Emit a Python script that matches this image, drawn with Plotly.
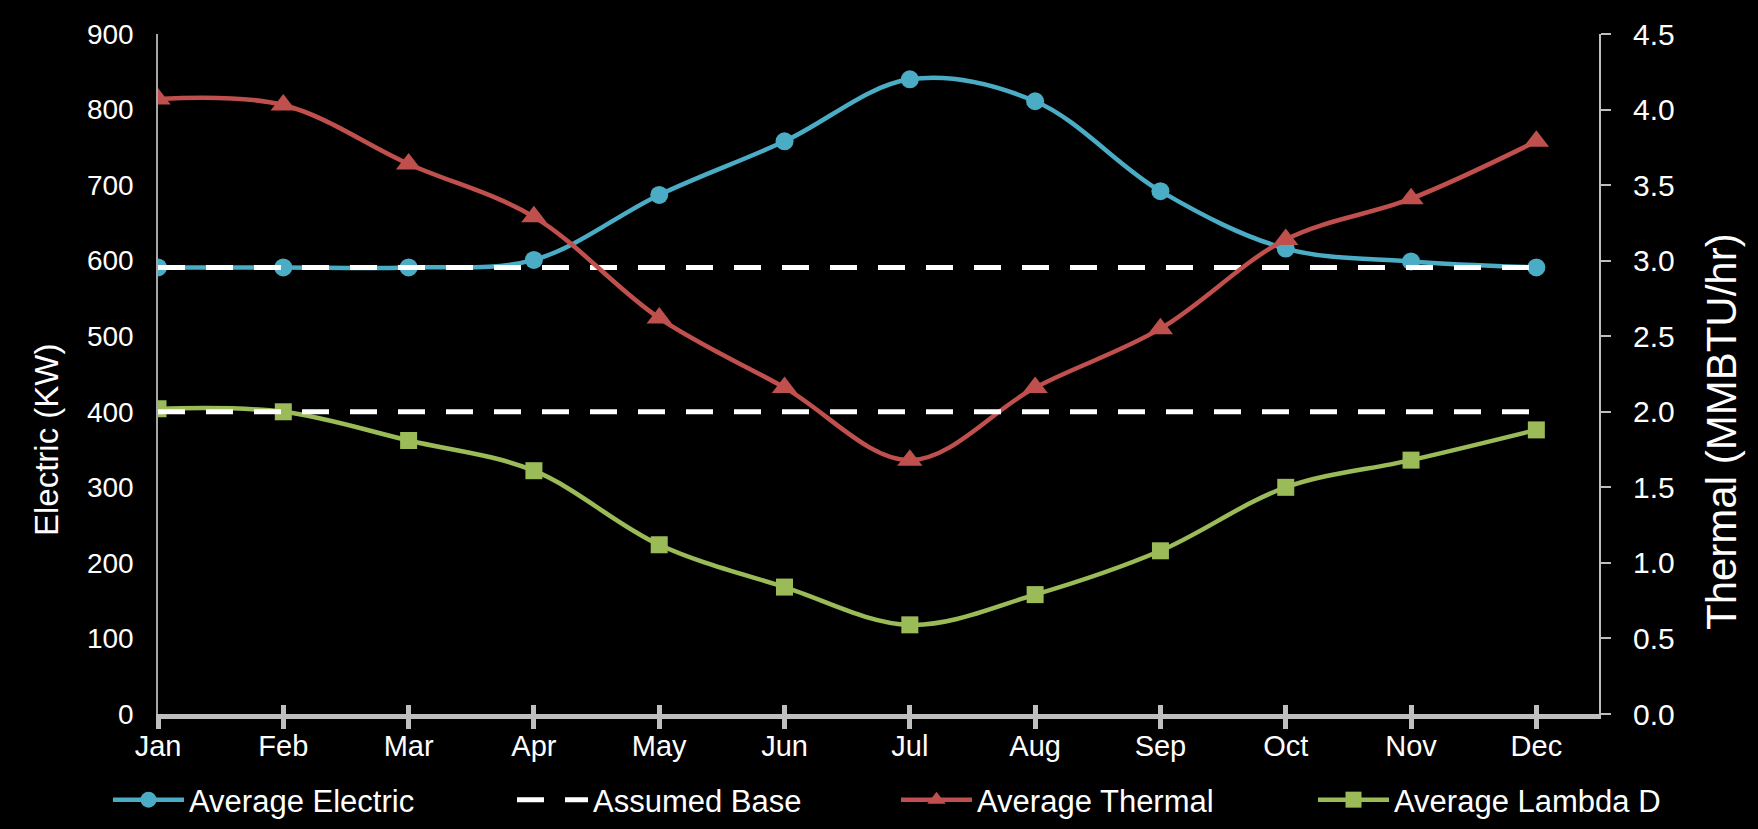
import plotly.graph_objects as go

months = ["Jan", "Feb", "Mar", "Apr", "May", "Jun", "Jul", "Aug", "Sep", "Oct", "Nov", "Dec"]
avg_electric = [591, 591, 591, 601, 687, 758, 840, 811, 692, 616, 599, 591]
base_electric = [591] * 12
avg_thermal = [4.07, 4.03, 3.64, 3.29, 2.62, 2.16, 1.68, 2.16, 2.55, 3.14, 3.41, 3.79]
base_thermal = [2.0] * 12
avg_lambda = [2.02, 2.00, 1.81, 1.61, 1.12, 0.84, 0.59, 0.79, 1.08, 1.50, 1.68, 1.88]

C_ELEC = "#4BACC6"
C_THERM = "#C0504D"
C_LAMBDA = "#9BBB59"
FONT = "Liberation Sans, Arial, sans-serif"
AXIS_GRAY = "#BFBFBF"

W, H = 1758, 829
L, R, T, B = 158, 159, 34, 115
PW, PH = W - L - R, H - T - B

x_idx = list(range(len(months)))

fig = go.Figure()

fig.add_trace(go.Scatter(
    x=x_idx, y=avg_electric, name="Average Electric", mode="lines+markers",
    line=dict(color=C_ELEC, width=4.5, shape="spline", smoothing=1.0),
    marker=dict(symbol="circle", size=18, color=C_ELEC),
    yaxis="y", legend="legend",
))
fig.add_trace(go.Scatter(
    x=x_idx, y=base_electric, name="Assumed Base", mode="lines",
    line=dict(color="white", width=5, dash="27px,21px"),
    yaxis="y", legend="legend2",
))
fig.add_trace(go.Scatter(
    x=x_idx, y=avg_thermal, name="Average Thermal", mode="lines+markers",
    line=dict(color=C_THERM, width=4.5, shape="spline", smoothing=1.0),
    marker=dict(symbol="triangle-up", size=22, color=C_THERM),
    yaxis="y2", legend="legend3",
))
fig.add_trace(go.Scatter(
    x=x_idx, y=avg_lambda, name="Average Lambda D", mode="lines+markers",
    line=dict(color=C_LAMBDA, width=4.5, shape="spline", smoothing=1.0),
    marker=dict(symbol="square", size=17, color=C_LAMBDA),
    yaxis="y2", legend="legend4",
))
fig.add_trace(go.Scatter(
    x=x_idx, y=base_thermal, name="Assumed Base", mode="lines",
    line=dict(color="white", width=5, dash="27px,21px"),
    yaxis="y2", showlegend=False,
))
# invisible helper trace so the overlay axis (inner tick halves) is drawn
fig.add_trace(go.Scatter(
    x=x_idx, y=base_electric, mode="lines", line=dict(width=0),
    xaxis="x2", yaxis="y", showlegend=False, hoverinfo="skip", opacity=0,
))

legend_y = -(800 - (H - B)) / PH


def legend_at(px):
    return dict(
        orientation="h", xref="paper", x=(px - L) / PW, xanchor="left",
        yref="paper", y=legend_y, yanchor="middle",
        font=dict(size=31, color="white", family=FONT), bgcolor="rgba(0,0,0,0)",
        itemwidth=71,
    )


fig.update_layout(
    width=W, height=H,
    paper_bgcolor="black", plot_bgcolor="black",
    margin=dict(l=L, r=R, t=T, b=B, autoexpand=False),
    font=dict(family=FONT, color="white", size=29),
    showlegend=True,
    legend=legend_at(108),
    legend2=legend_at(512),
    legend3=legend_at(896),
    legend4=legend_at(1313),
    xaxis=dict(
        range=[0, 11.5], tickmode="array", tickvals=x_idx, ticktext=months,
        showgrid=False, zeroline=False, showline=True, linecolor=AXIS_GRAY, linewidth=5,
        ticks="outside", ticklen=10, tickwidth=5, tickcolor=AXIS_GRAY,
        tickfont=dict(size=29, color="white"), ticklabelstandoff=-8,
    ),
    xaxis2=dict(
        range=[0, 11.5], overlaying="x", tickmode="array", tickvals=x_idx,
        showticklabels=False, showgrid=False, zeroline=False, showline=False,
        ticks="inside", ticklen=9, tickwidth=5, tickcolor=AXIS_GRAY,
    ),
    yaxis=dict(
        range=[0, 900], dtick=100, showgrid=False, zeroline=False,
        showline=True, linecolor="#A6A6A6", linewidth=1.5, ticks="",
        tickfont=dict(size=28, color="white"), ticklabelstandoff=17,
    ),
    yaxis2=dict(
        range=[0, 4.5], dtick=0.5, tickformat=".1f", overlaying="y", side="right",
        showgrid=False, zeroline=False, showline=True, linecolor=AXIS_GRAY, linewidth=2,
        ticks="outside", ticklen=10, tickwidth=2, tickcolor=AXIS_GRAY,
        tickfont=dict(size=30, color="white"), ticklabelstandoff=16,
    ),
    annotations=[
        dict(text="Electric (KW)", textangle=-90, showarrow=False,
             xref="paper", yref="paper", x=(46 - L) / PW, y=((H - B) - 440) / PH,
             xanchor="center", yanchor="middle",
             font=dict(size=33, color="white")),
        dict(text="Thermal (MMBTU/hr)", textangle=-90, showarrow=False,
             xref="paper", yref="paper", x=(1722 - L) / PW, y=((H - B) - 432) / PH,
             xanchor="center", yanchor="middle", font=dict(size=42, color="white")),
    ],
)

fig.write_html("out.html")
